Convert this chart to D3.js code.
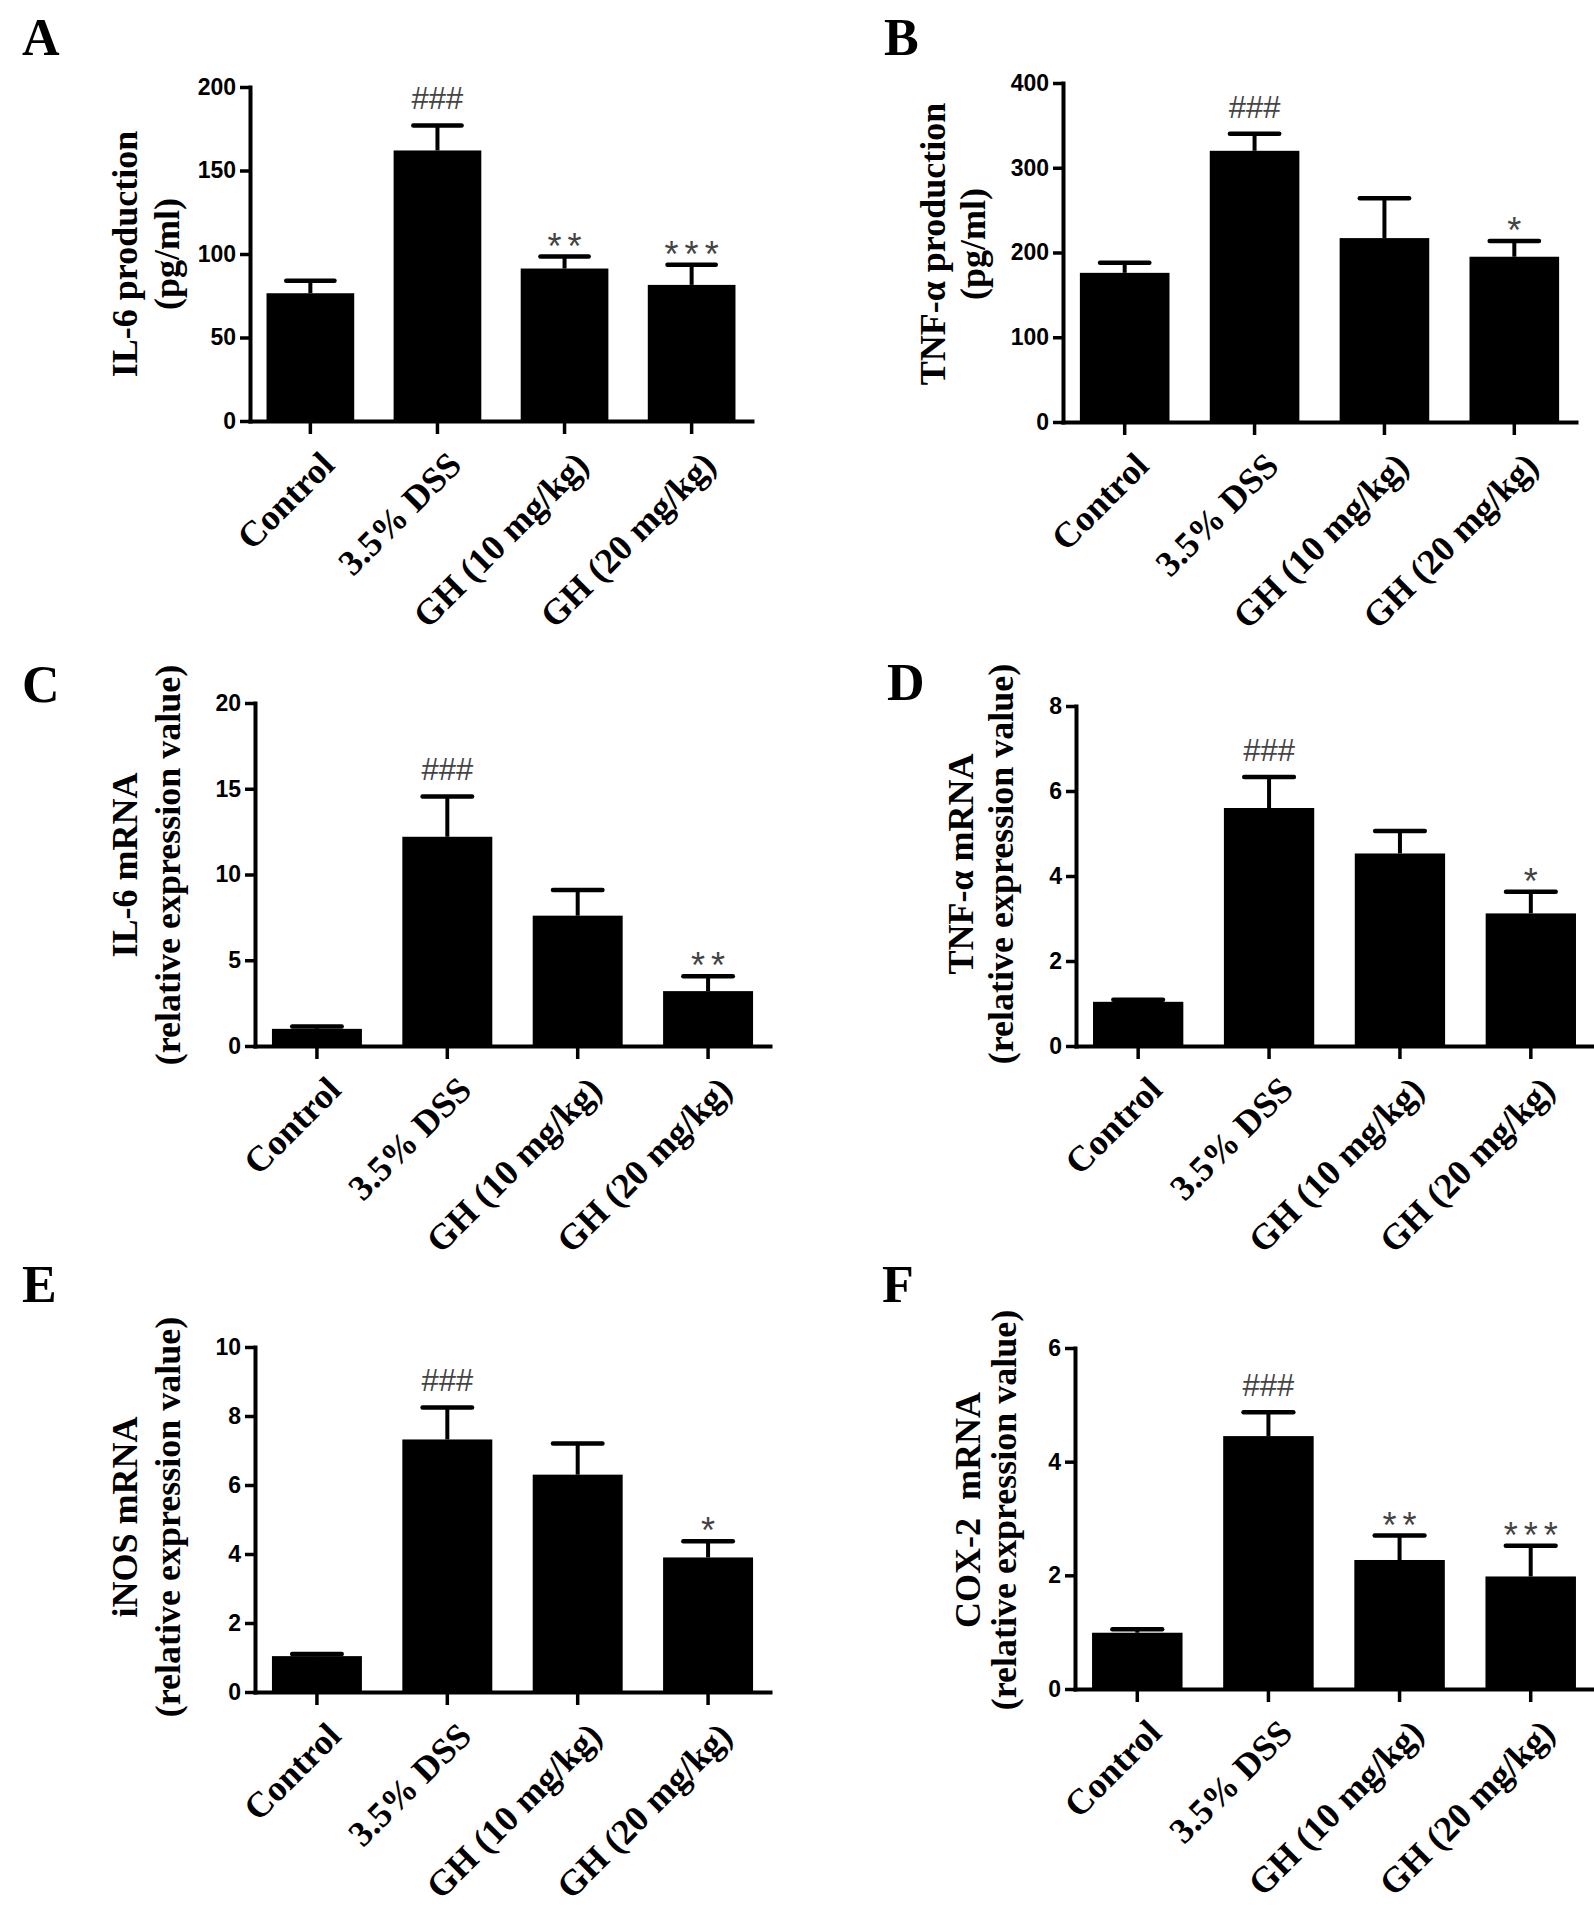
<!DOCTYPE html>
<html>
<head>
<meta charset="utf-8">
<script src="https://cdn.jsdelivr.net/npm/d3@7"></script>
<style>
  body { margin: 0; background: #fff; }
</style>
</head>
<body>
<script>
// x categories, shared by all six panels
const groups = ["Control", "3.5% DSS", "GH (10 mg/kg)", "GH (20 mg/kg)"];

// A - IL-6 production (pg/ml)
const il6Prod = [76.5, 162, 91.3, 81.5];
const il6ProdErr = [7.5, 15, 7.2, 12];
const il6ProdTicks = [0, 50, 100, 150, 200];
const il6ProdMarks = ["", "###", "**", "***"];

// B - TNF-a production (pg/ml)
const tnfProd = [176, 320, 217, 195];
const tnfProdErr = [12, 20, 47, 18.5];
const tnfProdTicks = [0, 100, 200, 300, 400];
const tnfProdMarks = ["", "###", "", "*"];

// C - IL-6 mRNA
const il6Mrna = [1.0, 12.2, 7.6, 3.2];
const il6MrnaErr = [0.13, 2.35, 1.5, 0.87];
const il6MrnaTicks = [0, 5, 10, 15, 20];
const il6MrnaMarks = ["", "###", "", "**"];

// D - TNF-a mRNA
const tnfMrna = [1.04, 5.6, 4.53, 3.12];
const tnfMrnaErr = [0.05, 0.73, 0.53, 0.51];
const tnfMrnaTicks = [0, 2, 4, 6, 8];
const tnfMrnaMarks = ["", "###", "", "*"];

// E - iNOS mRNA
const inosMrna = [1.04, 7.32, 6.3, 3.9];
const inosMrnaErr = [0.06, 0.93, 0.9, 0.47];
const inosMrnaTicks = [0, 2, 4, 6, 8, 10];
const inosMrnaMarks = ["", "###", "", "*"];

// F - COX-2 mRNA
const coxMrna = [0.99, 4.45, 2.27, 1.98];
const coxMrnaErr = [0.06, 0.42, 0.43, 0.54];
const coxMrnaTicks = [0, 2, 4, 6];
const coxMrnaMarks = ["", "###", "**", "***"];

const serif = "'Liberation Serif','Times New Roman',Times,serif";
const sans = "'Liberation Sans',Arial,Helvetica,sans-serif";

const svg = d3.select("body")
  .append("svg")
  .attr("width", 1594)
  .attr("height", 1913)
  .style("display", "block");

svg.append("rect").attr("width", 1594).attr("height", 1913).attr("fill", "#fff");

// panel frames (where each plot sits on the page)
const panels = [
  { letter: "A", lx: 22, ly: 55, x: 250, right: 752, top: 87, bottom: 421,
    lab1: "IL-6 production", lab2: "(pg/ml)", off1: -125, off2: -83, cy: 254,
    values: il6Prod, errs: il6ProdErr, ticks: il6ProdTicks, marks: il6ProdMarks },
  { letter: "B", lx: 884, ly: 55, x: 1063, right: 1576, top: 83, bottom: 422,
    lab1: "TNF-\u03b1 production", lab2: "(pg/ml)", off1: -130, off2: -90, cy: 244,
    values: tnfProd, errs: tnfProdErr, ticks: tnfProdTicks, marks: tnfProdMarks },
  { letter: "C", lx: 22, ly: 702, x: 255, right: 770, top: 703, bottom: 1046,
    lab1: "IL-6 mRNA", lab2: "(relative expression value)", off1: -130, off2: -87, cy: 865,
    values: il6Mrna, errs: il6MrnaErr, ticks: il6MrnaTicks, marks: il6MrnaMarks },
  { letter: "D", lx: 887, ly: 700, x: 1076, right: 1593, top: 706, bottom: 1046,
    lab1: "TNF-\u03b1 mRNA", lab2: "(relative expression value)", off1: -115, off2: -75, cy: 864,
    values: tnfMrna, errs: tnfMrnaErr, ticks: tnfMrnaTicks, marks: tnfMrnaMarks },
  { letter: "E", lx: 22, ly: 1302, x: 255, right: 770, top: 1347, bottom: 1692,
    lab1: "iNOS mRNA", lab2: "(relative expression value)", off1: -130, off2: -87, cy: 1517,
    values: inosMrna, errs: inosMrnaErr, ticks: inosMrnaTicks, marks: inosMrnaMarks },
  { letter: "F", lx: 882, ly: 1302, x: 1075, right: 1593, top: 1348, bottom: 1689,
    lab1: "COX-2  mRNA", lab2: "(relative expression value)", off1: -107, off2: -71, cy: 1510,
    values: coxMrna, errs: coxMrnaErr, ticks: coxMrnaTicks, marks: coxMrnaMarks }
];

function drawPanel(p) {
  const g = svg.append("g");

  const x = d3.scaleBand()
    .domain(groups)
    .range([p.x, p.right])
    .paddingInner(0.31)
    .paddingOuter(0.13);
  const y = d3.scaleLinear()
    .domain([0, d3.max(p.ticks)])
    .range([p.bottom, p.top]);

  const bw = x.bandwidth();
  const capW = bw * 0.55;
  const cx = i => x(groups[i]) + bw / 2;

  // bars
  g.selectAll("rect.bar")
    .data(p.values)
    .join("rect")
    .attr("class", "bar")
    .attr("x", (d, i) => x(groups[i]))
    .attr("y", d => y(d))
    .attr("width", bw)
    .attr("height", d => y(0) - y(d))
    .attr("fill", "#000");

  // upper error bars
  g.selectAll("line.err")
    .data(p.values)
    .join("line")
    .attr("class", "err")
    .attr("x1", (d, i) => cx(i))
    .attr("x2", (d, i) => cx(i))
    .attr("y1", d => y(d))
    .attr("y2", (d, i) => y(d + p.errs[i]))
    .attr("stroke", "#000")
    .attr("stroke-width", 4);
  g.selectAll("line.cap")
    .data(p.values)
    .join("line")
    .attr("class", "cap")
    .attr("x1", (d, i) => cx(i) - capW / 2)
    .attr("x2", (d, i) => cx(i) + capW / 2)
    .attr("y1", (d, i) => y(d + p.errs[i]))
    .attr("y2", (d, i) => y(d + p.errs[i]))
    .attr("stroke", "#000")
    .attr("stroke-width", 4.5)
    .attr("stroke-linecap", "round");

  // significance marks
  p.marks.forEach((m, i) => {
    if (!m) return;
    const capY = y(p.values[i] + p.errs[i]);
    const hash = m[0] === "#";
    g.append("text")
      .attr("x", cx(i) + (hash ? 0 : 3))
      .attr("y", hash ? capY - 16 : capY + 2)
      .attr("text-anchor", "middle")
      .attr("font-family", sans)
      .attr("font-size", hash ? 31 : 36)
      .attr("letter-spacing", hash ? 0 : 6)
      .attr("fill", "#444")
      .text(m);
  });

  // y axis
  const yAxis = d3.axisLeft(y)
    .tickValues(p.ticks)
    .tickSize(10)
    .tickSizeOuter(0)
    .tickPadding(4)
    .tickFormat(d3.format("d"));
  const ya = g.append("g")
    .attr("transform", "translate(" + p.x + ",0)")
    .call(yAxis);

  // x axis, tick marks only; labels are added below
  const xAxis = d3.axisBottom(x)
    .tickSize(13)
    .tickSizeOuter(0)
    .tickFormat("");
  const xa = g.append("g")
    .attr("transform", "translate(0," + p.bottom + ")")
    .call(xAxis);

  [ya, xa].forEach(a => {
    a.select(".domain").attr("stroke", "#000").attr("stroke-width", 4).attr("stroke-linecap", "square");
    a.selectAll(".tick line").attr("stroke", "#000").attr("stroke-width", 3.5);
  });
  ya.selectAll(".tick text")
    .attr("font-family", sans)
    .attr("font-weight", "bold")
    .attr("font-size", 23)
    .attr("fill", "#000");

  // rotated category labels
  g.selectAll("text.cat")
    .data(groups)
    .join("text")
    .attr("class", "cat")
    .attr("transform", d => "translate(" + (x(d) + bw / 2 + 26) + "," + (p.bottom + 46) + ") rotate(-45)")
    .attr("text-anchor", "end")
    .attr("font-family", serif)
    .attr("font-weight", "bold")
    .attr("font-size", 36)
    .attr("fill", "#000")
    .text(d => d);

  // y axis title, two lines
  [[p.lab1, p.off1], [p.lab2, p.off2]].forEach(([t, off]) => {
    g.append("text")
      .attr("transform", "translate(" + (p.x + off + 12) + "," + p.cy + ") rotate(-90)")
      .attr("text-anchor", "middle")
      .attr("font-family", serif)
      .attr("font-weight", "bold")
      .attr("font-size", 36)
      .attr("fill", "#000")
      .style("white-space", "pre")
      .text(t);
  });

  // panel letter
  svg.append("text")
    .attr("x", p.lx)
    .attr("y", p.ly)
    .attr("font-family", serif)
    .attr("font-weight", "bold")
    .attr("font-size", 52)
    .attr("fill", "#000")
    .text(p.letter);
}

panels.forEach(drawPanel);
</script>
</body>
</html>
